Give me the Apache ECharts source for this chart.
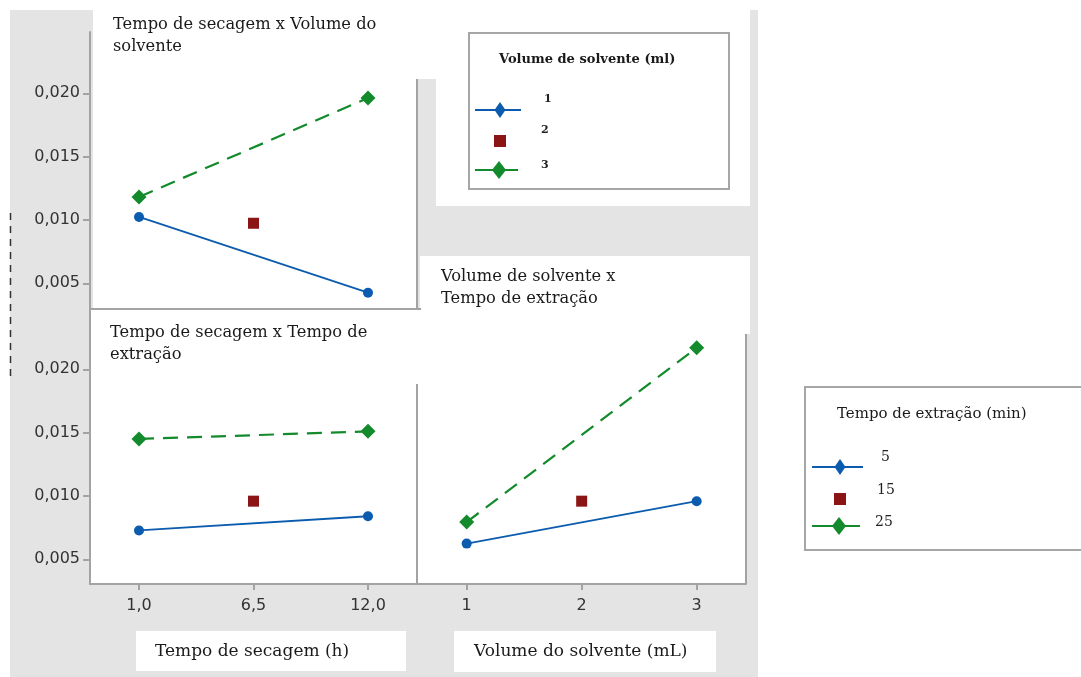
<!DOCTYPE html>
<html>
<head>
<meta charset="utf-8">
<script src="https://cdn.jsdelivr.net/npm/echarts@6/dist/echarts.min.js"></script>
<style>html,body{margin:0;padding:0;background:#fff}#c{width:1081px;height:677px}</style>
</head>
<body>
<div id="c"></div>
<script>
// ---- data ----
const xTicksSecagem = [1, 6.5, 12];
const xTicksVolume = [1, 2, 3];
const yTicks = [0.005, 0.010, 0.015, 0.020];
const volumeLevels = ['1', '2', '3'];
const extracaoLevels = ['5', '15', '25'];
const panelTitles = ['Tempo de secagem x Volume do\nsolvente', 'Tempo de secagem x Tempo de\nextração', 'Volume de solvente x\nTempo de extração'];
const xAxisTitles = ['Tempo de secagem (h)', 'Volume do solvente (mL)'];
const legendTitles = ['Volume de solvente (ml)', 'Tempo de extração (min)'];
// Top-left: Tempo de secagem x Volume do solvente
const tlLow = [0.01024, 0.00426];
const tlMid = [0.00974];
const tlHigh = [0.01182, 0.01963];
// Bottom-left: Tempo de secagem x Tempo de extração
const blLow = [0.00728, 0.00840];
const blMid = [0.00959];
const blHigh = [0.01450, 0.01510];
// Bottom-right: Volume de solvente x Tempo de extração
const brLow = [0.00624, 0.00959];
const brMid = [0.00959];
const brHigh = [0.00794, 0.02170];

// ---- styles ----
const BLUE = '#0b5cae', RED = '#8b1515', GREEN = '#138a2b', AX = '#a3a3a3';
const sans = 'DejaVu Sans', serif = 'DejaVu Serif';

function fmtX(v) { return v.toFixed(1).replace('.', ','); }
function fmtY(v) { return v.toFixed(3).replace('.', ','); }

function mkSeries(idx, ticks, low, mid, high, names) {
  return [
    { name: names[0], type: 'line', xAxisIndex: idx, yAxisIndex: idx,
      data: [[ticks[0], low[0]], [ticks[2], low[1]]],
      symbol: 'circle', symbolSize: 10, itemStyle: { color: BLUE, opacity: 1 },
      lineStyle: { color: BLUE, width: 1.8 }, z: 5, silent: true },
    { name: names[1], type: 'scatter', xAxisIndex: idx, yAxisIndex: idx,
      data: [[ticks[1], mid[0]]], symbol: 'rect', symbolSize: 11,
      itemStyle: { color: RED, opacity: 1 }, z: 5, silent: true },
    { name: names[2], type: 'line', xAxisIndex: idx, yAxisIndex: idx,
      data: [[ticks[0], high[0]], [ticks[2], high[1]]],
      symbol: 'diamond', symbolSize: 15, itemStyle: { color: GREEN, opacity: 1 },
      lineStyle: { color: GREEN, width: 2.2, type: [15, 9] }, z: 5, silent: true }
  ];
}

function xAx(idx, min, max, ticks, showLabels, fmt) {
  return { type: 'value', gridIndex: idx, min: min, max: max,
    axisLine: { show: true, onZero: false, lineStyle: { color: AX, width: 2 } },
    axisTick: { show: showLabels, length: 6, lineStyle: { color: AX, width: 2 }, customValues: ticks },
    axisLabel: { show: showLabels, customValues: ticks, formatter: fmt, margin: 14,
      fontFamily: sans, fontSize: 16, color: '#333' },
    splitLine: { show: false } };
}
function yAx(idx, min, max, showAxis) {
  return { type: 'value', gridIndex: idx, min: min, max: max,
    axisLine: { show: showAxis, onZero: false, lineStyle: { color: AX, width: 2 } },
    axisTick: { show: showAxis, length: 7, lineStyle: { color: AX, width: 2 }, customValues: yTicks },
    axisLabel: { show: showAxis, customValues: yTicks, formatter: fmtY, margin: 10,
      fontFamily: sans, fontSize: 16, color: '#333' },
    splitLine: { show: false } };
}

// legend graphics built from the level arrays
function legendBlock(x0, y0, title, labels, titleFont, labelFont, boxW, boxH, geo) {
  const els = [];
  els.push({ type: 'rect', shape: { x: x0, y: y0, width: boxW, height: boxH },
    style: { fill: '#fff', stroke: '#a6a6a6', lineWidth: 2 }, z: 1 });
  els.push({ type: 'text', x: x0 + geo.titleDx, y: y0 + geo.titleDy,
    style: { text: title, font: titleFont, fill: '#1a1a1a', textVerticalAlign: 'middle' }, z: 3 });
  const lx = x0 + geo.lineX0;
  els.push({ type: 'line', shape: { x1: lx, y1: y0 + geo.y1, x2: lx + geo.lineW, y2: y0 + geo.y1 },
    style: { stroke: BLUE, lineWidth: 2 }, z: 3 });
  const bx = lx + geo.markDx, by = y0 + geo.y1;
  els.push({ type: 'polygon', shape: { points: [[bx, by - 8], [bx + 5.5, by], [bx, by + 8], [bx - 5.5, by]] }, style: { fill: BLUE }, z: 3 });
  els.push({ type: 'rect', shape: { x: lx + geo.markDx - 6, y: y0 + geo.y2 - 6, width: 12, height: 12 }, style: { fill: RED }, z: 3 });
  els.push({ type: 'line', shape: { x1: lx, y1: y0 + geo.y3, x2: lx + geo.lineW - 3, y2: y0 + geo.y3 },
    style: { stroke: GREEN, lineWidth: 2 }, z: 3 });
  const cx = lx + geo.markDx - 1, cy = y0 + geo.y3;
  els.push({ type: 'polygon', shape: { points: [[cx, cy - 9], [cx + 7, cy], [cx, cy + 9], [cx - 7, cy]] }, style: { fill: GREEN }, z: 3 });
  labels.forEach(function (lab, i) {
    els.push({ type: 'text', x: x0 + geo.labX[i], y: y0 + geo.labY[i],
      style: { text: lab, font: labelFont, fill: '#222', textVerticalAlign: 'middle' }, z: 3 });
  });
  return els;
}

const W = '#ffffff';
const graphics = [
  { type: 'rect', shape: { x: 10, y: 10, width: 748, height: 667 }, style: { fill: '#e4e4e4' }, z: -10 },
  { type: 'rect', shape: { x: 93, y: 0, width: 343, height: 79 }, style: { fill: W }, z: -9 },
  { type: 'rect', shape: { x: 93, y: 79, width: 324, height: 231 }, style: { fill: W }, z: -9 },
  { type: 'rect', shape: { x: 436, y: 0, width: 314, height: 206 }, style: { fill: W }, z: -9 },
  { type: 'rect', shape: { x: 420, y: 256, width: 330, height: 78 }, style: { fill: W }, z: -9 },
  { type: 'rect', shape: { x: 417, y: 334, width: 329, height: 250 }, style: { fill: W }, z: -9 },
  { type: 'rect', shape: { x: 90, y: 310, width: 350, height: 74 }, style: { fill: W }, z: -9 },
  { type: 'rect', shape: { x: 90, y: 384, width: 327, height: 200 }, style: { fill: W }, z: -9 },
  { type: 'rect', shape: { x: 136, y: 631, width: 270, height: 40 }, style: { fill: W }, z: -9 },
  { type: 'rect', shape: { x: 454, y: 631, width: 262, height: 41 }, style: { fill: W }, z: -9 },
  // extra frame lines
  { type: 'line', shape: { x1: 417, y1: 79, x2: 417, y2: 310 }, style: { stroke: AX, lineWidth: 2 }, z: 1 },
  { type: 'line', shape: { x1: 417, y1: 384, x2: 417, y2: 584 }, style: { stroke: AX, lineWidth: 2 }, z: 1 },
  { type: 'line', shape: { x1: 746, y1: 334, x2: 746, y2: 584 }, style: { stroke: AX, lineWidth: 2 }, z: 1 },
  { type: 'line', shape: { x1: 90, y1: 309, x2: 421, y2: 309 }, style: { stroke: AX, lineWidth: 2 }, z: 1 },
  { type: 'line', shape: { x1: 417, y1: 584, x2: 440, y2: 584 }, style: { stroke: AX, lineWidth: 2 }, z: 1 },
  // clipped remnant of the y-axis title
  { type: 'line', shape: { x1: 10.5, y1: 213, x2: 10.5, y2: 380 }, style: { stroke: '#333', lineWidth: 1.5, lineDash: [7, 6] }, z: 1 },
  // x axis titles
  { type: 'text', x: 155, y: 652, style: { text: xAxisTitles[0], font: '17px "' + serif + '"', fill: '#1a1a1a', textVerticalAlign: 'middle' }, z: 3 },
  { type: 'text', x: 474, y: 652, style: { text: xAxisTitles[1], font: '17px "' + serif + '"', fill: '#1a1a1a', textVerticalAlign: 'middle' }, z: 3 }
].concat(
  legendBlock(469, 33, legendTitles[0], volumeLevels, 'bold 13px "' + serif + '"', 'bold 11px "' + serif + '"', 260, 156,
    { titleDx: 30, titleDy: 27, lineX0: 6, lineW: 46, markDx: 25, y1: 77, y2: 108, y3: 137,
      labX: [75, 72, 72], labY: [66, 97, 132] }),
  legendBlock(805, 387, legendTitles[1], extracaoLevels, '15px "' + serif + '"', '14px "' + serif + '"', 290, 163,
    { titleDx: 32, titleDy: 27, lineX0: 7, lineW: 51, markDx: 28, y1: 80, y2: 112, y3: 139,
      labX: [76, 72, 70], labY: [70, 103, 135] })
);

const option = {
  backgroundColor: '#fff',
  animation: false,
  title: [
    { text: panelTitles[0], left: 113, top: 14 },
    { text: panelTitles[1], left: 110, top: 322 },
    { text: panelTitles[2], left: 441, top: 266 }
  ].map(function (t) {
    t.padding = 0;
    t.textStyle = { fontFamily: serif, fontSize: 16.3, fontWeight: 'normal', color: '#1a1a1a', lineHeight: 22 };
    return t;
  }),
  grid: [
    { left: 90, top: 32, width: 327, height: 277 },
    { left: 90, top: 310, width: 327, height: 274 },
    { left: 417, top: 334, width: 329, height: 250 }
  ],
  xAxis: [
    xAx(0, -1.354, 14.354, xTicksSecagem, false, fmtX),
    xAx(1, -1.354, 14.354, xTicksSecagem, true, fmtX),
    xAx(2, 0.568, 3.429, xTicksVolume, true, function (v) { return String(v); })
  ],
  yAxis: [
    yAx(0, 0.002971, 0.024839, true),
    yAx(1, 0.00305, 0.024682, true),
    yAx(2, 0.00305, 0.022787, false)
  ],
  graphic: { elements: graphics },
  series: [].concat(
    mkSeries(0, xTicksSecagem, tlLow, tlMid, tlHigh, volumeLevels),
    mkSeries(1, xTicksSecagem, blLow, blMid, blHigh, extracaoLevels),
    mkSeries(2, xTicksVolume, brLow, brMid, brHigh, extracaoLevels)
  )
};
const chart = echarts.init(document.getElementById('c'), null, { renderer: 'canvas' });
chart.setOption(option);
</script>
</body>
</html>
